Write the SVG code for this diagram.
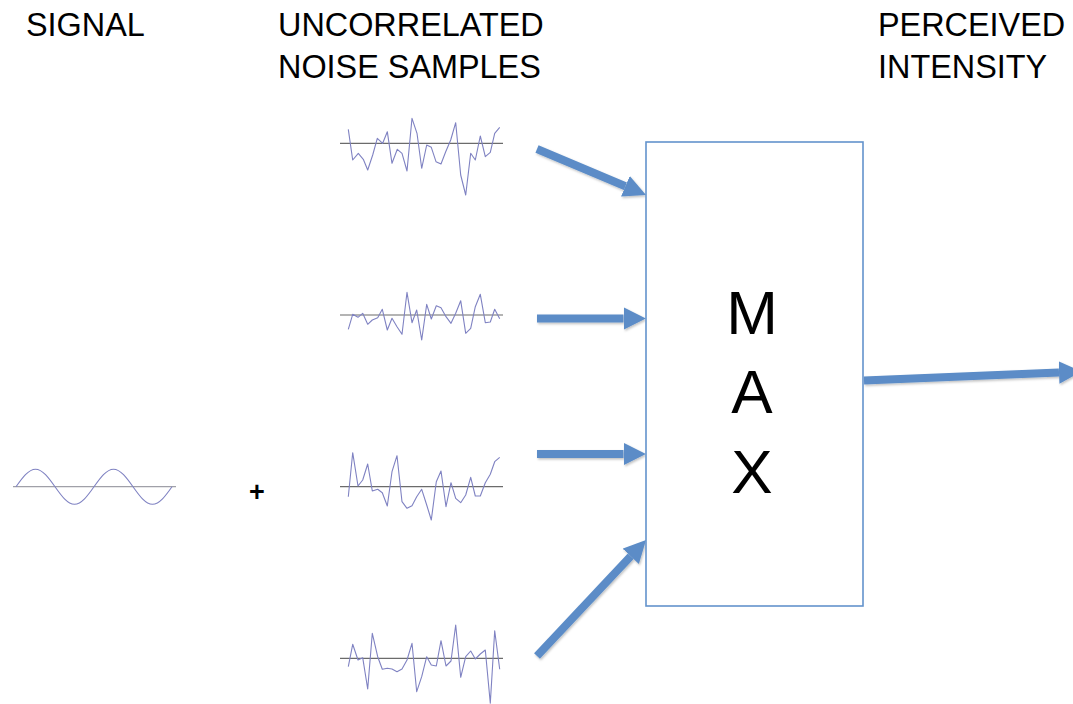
<svg xmlns="http://www.w3.org/2000/svg" width="1073" height="704" viewBox="0 0 1073 704">
<style>
.lbl{font-family:"Liberation Sans",Arial,sans-serif;font-size:32.4px;fill:#000}
.big{font-family:"Liberation Sans",Arial,sans-serif;font-size:62px;fill:#000;text-anchor:middle}
.wave{fill:none;stroke:#7f82c2;stroke-width:1.1;stroke-linejoin:round}
.axis{stroke:#6b6b6b;stroke-width:1.2}
.axis2{stroke:#a0a0a8;stroke-width:1.2}
.arr{stroke:#5b8cc7;stroke-width:8;fill:none;marker-end:url(#ah);filter:url(#sh)}
</style>
<defs>
<marker id="ah" viewBox="0 0 10 10" refX="0" refY="5" markerWidth="2.8" markerHeight="2.8" orient="auto" markerUnits="strokeWidth">
<path d="M0,0 L10,5 L0,10 z" fill="#5b8cc7"/>
</marker>
<filter id="sh" filterUnits="userSpaceOnUse" x="0" y="0" width="1073" height="704">
<feDropShadow dx="1" dy="1.5" stdDeviation="1.2" flood-color="#000" flood-opacity="0.25"/>
</filter>
</defs>

<g id="labels">
<text class="lbl" x="26" y="36">SIGNAL</text>
<text class="lbl" x="278" y="36">UNCORRELATED</text>
<text class="lbl" x="278" y="78">NOISE SAMPLES</text>
<text class="lbl" x="878" y="36">PERCEIVED</text>
<text class="lbl" x="878" y="78">INTENSITY</text>
</g>

<g id="signal">
<line class="axis2" x1="13" y1="486.7" x2="176" y2="486.7"/>
<path class="wave" d="M16,486.7 c6.35,-8.95 12.44,-17.5 19.5,-17.5 s13.15,8.55 19.5,17.5 s12.44,17.5 19.5,17.5 s13.15,-8.55 19.5,-17.5 s12.44,-17.5 19.5,-17.5 s13.15,8.55 19.5,17.5 s12.44,17.5 19.5,17.5 s13.15,-8.55 19.5,-17.5"/>
</g>

<g id="plus">
<text x="257" y="501" style="font-family:'Liberation Sans',Arial,sans-serif;font-size:27px;font-weight:bold;text-anchor:middle">+</text>
</g>

<g id="noise1">
<line class="axis" x1="340" y1="143.3" x2="503" y2="143.3"/>
<polyline class="wave" points="348.3,129.3 352.7,160 358.3,153.3 363.3,159.3 367.7,170 372.7,155 377.3,138.3 382.7,143.3 387.3,131.7 392,163.3 397.3,149.3 402,153.3 407,171 412,118.3 417,133.3 421.7,168.3 426.7,145 431.3,147.3 436,161.7 441,164 445.7,151.7 450.7,140 455.7,122.7 460.7,175 465.7,195 470.7,153.3 475.3,160 480.3,136 485.3,156.7 490.3,152.3 494.7,133.3 499.7,127.3"/>
</g>

<g id="noise2">
<line class="axis" x1="340" y1="315" x2="503" y2="315"/>
<polyline class="wave" points="348.3,329.3 352.7,314.3 358,317.3 362.7,313.3 367.7,324.3 372.3,320 377.7,317.7 382.3,309.3 387.3,330 392,318.3 397,326.7 402,334.3 407,292.3 412,322.7 416.7,310 421.7,340 426.7,304.3 431.3,319 436.3,305.7 441,307.7 446,316.7 451,323.3 455.7,313.3 460.7,300.7 465.7,333.3 470.7,328.3 475.3,306.7 480.3,294.3 485.3,322.7 490.3,322 494.7,309.3 499.7,318.7"/>
</g>

<g id="noise3">
<line class="axis" x1="340" y1="486.7" x2="503" y2="486.7"/>
<polyline class="wave" points="348.3,496.7 352.7,452.7 358,486 362.7,480 367.7,464 372.3,491 377.7,489.3 382.3,492.7 387.3,506 392,471.7 397,455.7 402,501.7 407,508.3 412,505.7 416.7,496.7 421.7,489.3 426.7,505 431.3,520 436.3,481.7 441,471 446,506.7 451,482.7 455.7,498.3 460.7,502.7 465.7,495 470.7,477.3 475.3,496 480.3,496 485.3,482.7 490.3,474.3 494.7,461.7 499.7,457.3"/>
</g>

<g id="noise4">
<line class="axis" x1="340" y1="658.3" x2="503" y2="658.3"/>
<polyline class="wave" points="348.3,666.7 352.7,644.3 358,660 362.7,657.7 367.7,689 372.3,633.3 377.7,656.7 382.3,669.3 387.3,668.3 392,669 397,671.7 402,669 407,660 412,643.3 416.7,691.7 421.7,676.7 426.7,656.7 431.3,665 436.3,666 441,640.7 446,666 451,661 455.7,625 460.7,677.3 465.7,656.7 470.7,651 475.3,659 480.3,654 485.3,650 490.3,703.3 494.7,630.7 499.7,669.3"/>
</g>

<g id="connectors">
<line class="arr" x1="537" y1="149" x2="625.4" y2="186.3"/>
<line class="arr" x1="537" y1="318.5" x2="623.5" y2="318.5"/>
<line class="arr" x1="537" y1="454" x2="623.5" y2="454"/>
<line class="arr" x1="537" y1="656" x2="630.7" y2="556.3"/>
<line class="arr" x1="864" y1="380.5" x2="1059" y2="372.5"/>
</g>

<g id="max">
<rect x="646" y="142" width="217" height="464" fill="#fff" stroke="#6393cc" stroke-width="1.6"/>
<text class="big" x="752" y="334">M</text>
<text class="big" x="752" y="413">A</text>
<text class="big" x="752" y="493">X</text>
</g>
</svg>
